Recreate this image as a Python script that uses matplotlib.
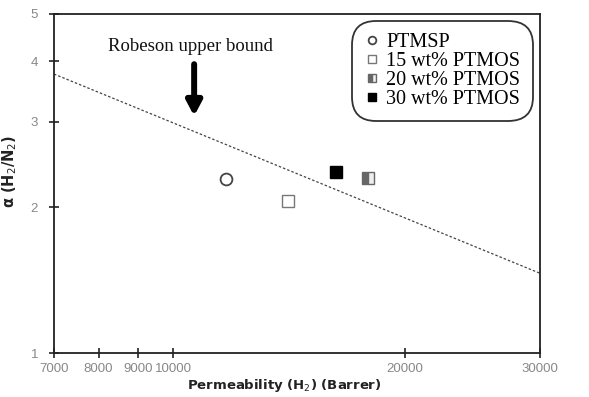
import matplotlib
matplotlib.use("Agg")
import matplotlib.pyplot as plt
from matplotlib.ticker import FixedLocator, NullLocator, FixedFormatter

# data
labels = ["PTMSP", "15 wt% PTMOS", "20 wt% PTMOS", "30 wt% PTMOS"]
perm_h2 = [11700, 14100, 17900, 16300]
alpha = [2.28, 2.06, 2.29, 2.36]

bound_x = [7000, 30000]
bound_y = [3.76, 1.46]

xticks = [7000, 8000, 9000, 10000, 20000, 30000]
xticklabels = ["7000", "8000", "9000", "10000", "20000", "30000"]
yticks = [1, 2, 3, 4, 5]

fig = plt.figure(figsize=(5.89, 3.97), dpi=100)
ax = fig.add_axes([54 / 589, 1 - 353 / 397, 486 / 589, 339 / 397])
ax.set_xscale("log")
ax.set_yscale("log")
ax.set_xlim(7000, 30000)
ax.set_ylim(1, 5)

ax.plot(bound_x, bound_y, linestyle=(0, (2, 1.6)), color="#444444", lw=0.9)

styles = [
    dict(marker="o", mfc="white", mec="#444444", ms=8.5, mew=1.3),
    dict(marker="s", mfc="white", mec="#777777", ms=8.5, mew=1.0),
    dict(marker="s", mfc="#666666", mec="#666666", ms=8.5, mew=1.0,
         fillstyle="left", markerfacecoloralt="#eeeeee"),
    dict(marker="s", mfc="black", mec="black", ms=8.5, mew=1.0),
]
handles = []
for x, y, lab, st in zip(perm_h2, alpha, labels, styles):
    h, = ax.plot([x], [y], linestyle="none", label=lab, **st)
    handles.append(h)

ax.xaxis.set_major_locator(FixedLocator(xticks))
ax.xaxis.set_major_formatter(FixedFormatter(xticklabels))
ax.xaxis.set_minor_locator(NullLocator())
ax.yaxis.set_major_locator(FixedLocator(yticks))
ax.yaxis.set_major_formatter(FixedFormatter([str(v) for v in yticks]))
ax.yaxis.set_minor_locator(NullLocator())
ax.tick_params(direction="inout", length=7, width=1.2, colors="#222222",
               labelcolor="#888888", labelsize=9.5, labelfontfamily="Liberation Sans")
ax.tick_params(axis="x", pad=4)
ax.tick_params(axis="y", pad=8)
for s in ax.spines.values():
    s.set_linewidth(1.3)
    s.set_color("#222222")

ax.set_xlabel("Permeability (H$_2$) (Barrer)", fontsize=9.5,
              fontweight="bold", color="#222222")
ax.xaxis.set_label_coords(0.473, -0.072)
ax.set_ylabel("α (H$_2$/N$_2$)", fontsize=10.5, fontweight="bold", color="#222222")
ax.yaxis.set_label_coords(-0.071, 0.537)

ax.text(10520, 4.29, "Robeson upper bound", fontsize=13.5, family="Liberation Serif",
        color="#111111", ha="center", va="center")
ax.annotate("", xy=(10650, 3.08), xytext=(10650, 3.94),
            arrowprops=dict(arrowstyle="-|>,head_width=0.45,head_length=0.85",
                            color="black", lw=4.3, shrinkA=0, shrinkB=0))

leg = ax.legend(handles=[h for h in handles], loc="upper right",
                bbox_to_anchor=(0.997, 0.998), frameon=True, fancybox=True,
                prop=dict(family="Liberation Serif", size=14.5), handletextpad=0.3,
                handlelength=0.8, labelspacing=0.0, borderpad=0.4,
                markerscale=0.65)
leg.get_frame().set_edgecolor("black")
leg.get_frame().set_linewidth(1.3)
leg.get_frame().set_boxstyle("round,pad=0.2,rounding_size=1.2")

fig.savefig("out.png", dpi=100)
